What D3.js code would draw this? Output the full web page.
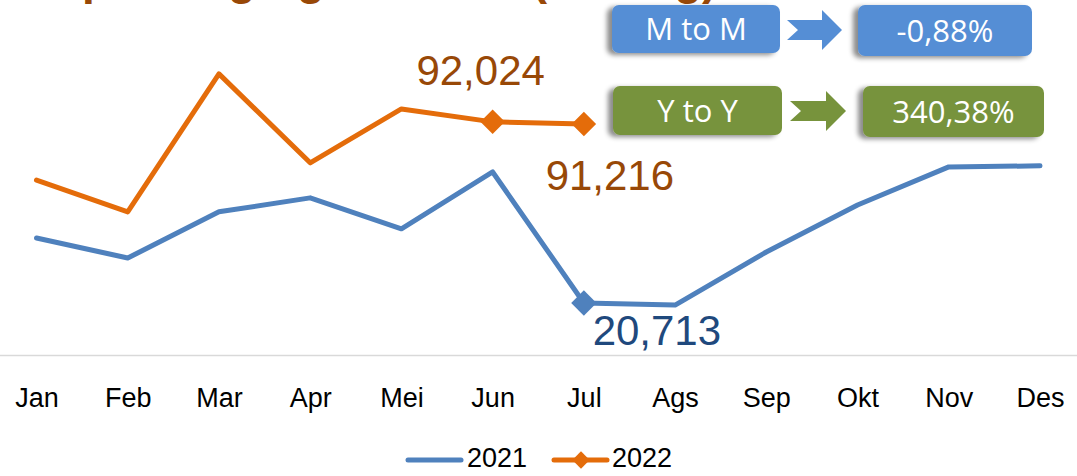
<!DOCTYPE html>
<html>
<head>
<meta charset="utf-8">
<script src="https://cdn.jsdelivr.net/npm/d3@7"></script>
<style>
  html, body { margin: 0; padding: 0; background: #ffffff; overflow: hidden; }
  svg { display: block; }
</style>
</head>
<body>
<svg id="chart" width="1077" height="476"></svg>
<script>
// ---- data ----
const months = ["Jan", "Feb", "Mar", "Apr", "Mei", "Jun", "Jul", "Ags", "Sep", "Okt", "Nov", "Des"];
const values2021 = [46.3, 38.4, 56.6, 62.1, 49.9, 72.3, 20.713, 19.9, 40.8, 59.3, 74.3, 74.7];
const values2022 = [69.1, 56.6, 110.9, 75.9, 97.1, 92.024, 91.216];
const seriesNames = ["2021", "2022"];
const titleText = "Grafik Impor Daging Bulanan (Ton/Kg)";
const mtmLabel = "M to M";
const ytyLabel = "Y to Y";

// ---- derived ----
const cur = values2022.length - 1;
const mtm = values2022[cur] / values2022[cur - 1] - 1;
const yty = values2022[cur] / values2021[cur] - 1;
const loc = d3.formatLocale({ decimal: ",", thousands: ".", grouping: [3], currency: ["", ""], minus: "-" });
const fmtNum = v => loc.format(".3f")(v);
const fmtPct = v => loc.format(".2f")(v * 100) + "%";

const svg = d3.select("#chart");
const W = 1077, H = 476;

const defs = svg.append("defs");
const f = defs.append("filter").attr("id", "shadow")
  .attr("x", "-20%").attr("y", "-40%").attr("width", "140%").attr("height", "180%");
f.append("feDropShadow").attr("dx", -5).attr("dy", 2).attr("stdDeviation", 2.5)
  .attr("flood-color", "#000").attr("flood-opacity", 0.45);

const x = d3.scalePoint().domain(months).range([36.5, 1040]);
const y = d3.scaleLinear().domain([0, 140]).range([355.6, 0]);

const cBlue = "#4F81BD", cOrange = "#E46C0A";
const font = "'Liberation Sans', Arial, sans-serif";

// title (mostly cropped at top, as in the reference)
svg.append("text").attr("x", 300).attr("y", -6)
  .attr("text-anchor", "middle")
  .attr("font-family", font).attr("font-size", 46).attr("font-weight", "bold")
  .attr("fill", "#984807").text(titleText);

// axis
svg.append("line").attr("x1", 0).attr("x2", W).attr("y1", y(0)).attr("y2", y(0))
  .attr("stroke", "#d9d9d9").attr("stroke-width", 1.5);
const ax = svg.append("g").attr("transform", `translate(0,${y(0)})`)
  .call(d3.axisBottom(x).tickSize(0).tickPadding(32));
ax.select(".domain").remove();
ax.selectAll("text").attr("font-family", font).attr("font-size", 27).attr("fill", "#000");

// lines
const line = d3.line().x((d, i) => x(months[i])).y(d => y(d));
svg.append("path").datum(values2021).attr("d", line)
  .attr("fill", "none").attr("stroke", cBlue).attr("stroke-width", 5)
  .attr("stroke-linejoin", "round").attr("stroke-linecap", "round");
svg.append("path").datum(values2022).attr("d", line)
  .attr("fill", "none").attr("stroke", cOrange).attr("stroke-width", 5)
  .attr("stroke-linejoin", "round").attr("stroke-linecap", "round");

// markers
function marker(cx, cy, color, size) {
  svg.append("path").attr("d", d3.symbol().type(d3.symbolSquare).size(size)())
    .attr("transform", `translate(${cx},${cy}) rotate(45)`).attr("fill", color);
}
marker(x(months[cur - 1]), y(values2022[cur - 1]), cOrange, 300);
marker(x(months[cur]), y(values2022[cur]), cOrange, 300);
marker(x(months[cur]), y(values2021[cur]), cBlue, 320);

// data labels
const lbl = (tx, ty, t, color) => svg.append("text").attr("x", tx).attr("y", ty)
  .attr("text-anchor", "middle").attr("font-family", font).attr("font-size", 42)
  .attr("fill", color).text(t);
lbl(x(months[cur - 1]) - 12, y(values2022[cur - 1]) - 37, fmtNum(values2022[cur - 1]), "#984807");
lbl(x(months[cur]) + 26, y(values2022[cur]) + 66, fmtNum(values2022[cur]), "#984807");
lbl(x(months[cur]) + 73, y(values2021[cur]) + 42, fmtNum(values2021[cur]), "#1F497D");

// KPI boxes
const boxFont = "'Open Sans', 'Liberation Sans', sans-serif";
function box(x0, y0, w, h, color, t) {
  svg.append("rect").attr("x", x0).attr("y", y0).attr("width", w).attr("height", h)
    .attr("rx", 7).attr("fill", color).attr("filter", "url(#shadow)");
  svg.append("text").attr("x", x0 + w / 2).attr("y", y0 + h / 2 + 11)
    .attr("text-anchor", "middle").attr("font-family", boxFont).attr("font-size", 31)
    .attr("fill", "#fff").text(t);
}
function arrow(x0, x1, cy, color) {
  const hb = x1 - 20;
  svg.append("path").attr("d",
    `M${x0},${cy - 10} L${hb},${cy - 10} L${hb},${cy - 20} L${x1},${cy} L${hb},${cy + 20} L${hb},${cy + 10} L${x0},${cy + 10} L${x0 + 11},${cy} Z`)
    .attr("fill", color);
}
const cBoxBlue = "#558ED5", cBoxGreen = "#77933C";
box(612, 5, 168, 48, cBoxBlue, mtmLabel);
arrow(787, 842, 30, cBoxBlue);
box(858, 5, 174, 51, cBoxBlue, fmtPct(mtm));
box(613, 86, 169, 49, cBoxGreen, ytyLabel);
arrow(790, 846, 111, cBoxGreen);
box(863, 86, 181, 51, cBoxGreen, fmtPct(yty));

// legend
const lg = svg.append("g");
lg.append("line").attr("x1", 408).attr("x2", 461).attr("y1", 460).attr("y2", 460)
  .attr("stroke", cBlue).attr("stroke-width", 5).attr("stroke-linecap", "round");
lg.append("text").attr("x", 467).attr("y", 467).attr("font-family", font).attr("font-size", 27)
  .attr("fill", "#000").text(seriesNames[0]);
lg.append("line").attr("x1", 554).attr("x2", 607).attr("y1", 460).attr("y2", 460)
  .attr("stroke", cOrange).attr("stroke-width", 5).attr("stroke-linecap", "round");
lg.append("path").attr("d", d3.symbol().type(d3.symbolSquare).size(150)())
  .attr("transform", "translate(581,460) rotate(45)").attr("fill", cOrange);
lg.append("text").attr("x", 612).attr("y", 467).attr("font-family", font).attr("font-size", 27)
  .attr("fill", "#000").text(seriesNames[1]);
</script>
</body>
</html>
